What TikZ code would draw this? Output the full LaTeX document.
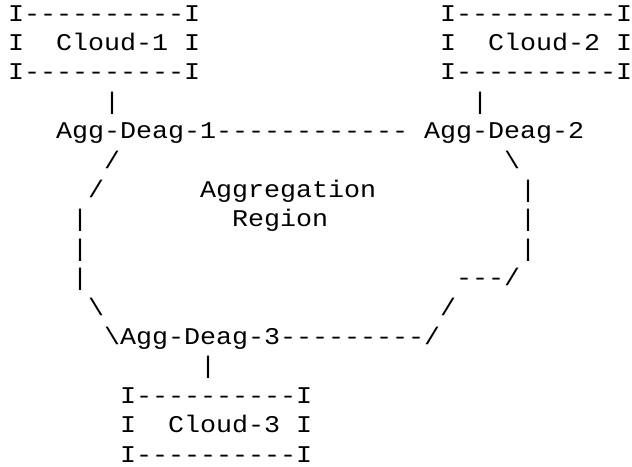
\documentclass[tikz,border=0pt]{standalone}
\usepackage{fontspec}
\setmonofont{Liberation Mono}
\usepackage{tikz}

\begin{document}
\begin{tikzpicture}[x=16pt,y=-29.4pt,ascii/.style={font=\ttfamily\fontsize{26.67pt}{29.4pt}\selectfont,inner sep=0pt,text depth=0pt,anchor=base west,yscale=0.9,transform shape}]
  \useasboundingbox (-0.5,-0.7143) rectangle (39,15.136);

  % clouds on top
  \node[ascii] (c1top) at (0,0) {I----------I};
  \node[ascii] (c1mid) at (0,1) {I~~Cloud-1 I};
  \node[ascii] (c1bot) at (0,2) {I----------I};
  \node[ascii] (c2top) at (27,0) {I----------I};
  \node[ascii] (c2mid) at (27,1) {I~~Cloud-2 I};
  \node[ascii] (c2bot) at (27,2) {I----------I};

  \node[ascii] (up1) at (6,3) {|};
  \node[ascii] (up2) at (29,3) {|};

  % aggregation ring
  \node[ascii] (agg1) at (3,4) {Agg-Deag-1};
  \node[ascii] (top) at (13,4) {------------};
  \node[ascii] (agg2) at (26,4) {Agg-Deag-2};

  \node[ascii] (l1) at (6,5) {/};
  \node[ascii] (r1) at (31,5) {\textbackslash};
  \node[ascii] (l2) at (5,6) {/};
  \node[ascii] (region1) at (12,6) {Aggregation};
  \node[ascii] (r2) at (32,6) {|};
  \node[ascii] (l3) at (4,7) {|};
  \node[ascii] (region2) at (14,7) {Region};
  \node[ascii] (r3) at (32,7) {|};
  \node[ascii] (l4) at (4,8) {|};
  \node[ascii] (r4) at (32,8) {|};
  \node[ascii] (l5) at (4,9) {|};
  \node[ascii] (r5) at (28,9) {---/};
  \node[ascii] (l6) at (5,10) {\textbackslash};
  \node[ascii] (r6) at (27,10) {/};
  \node[ascii] (l7) at (6,11) {\textbackslash};
  \node[ascii] (agg3) at (7,11) {Agg-Deag-3};
  \node[ascii] (bottom) at (17,11) {---------/};

  % cloud below
  \node[ascii] (down3) at (12,12) {|};
  \node[ascii] (c3top) at (7,13) {I----------I};
  \node[ascii] (c3mid) at (7,14) {I~~Cloud-3 I};
  \node[ascii] (c3bot) at (7,15) {I----------I};
\end{tikzpicture}
\end{document}
